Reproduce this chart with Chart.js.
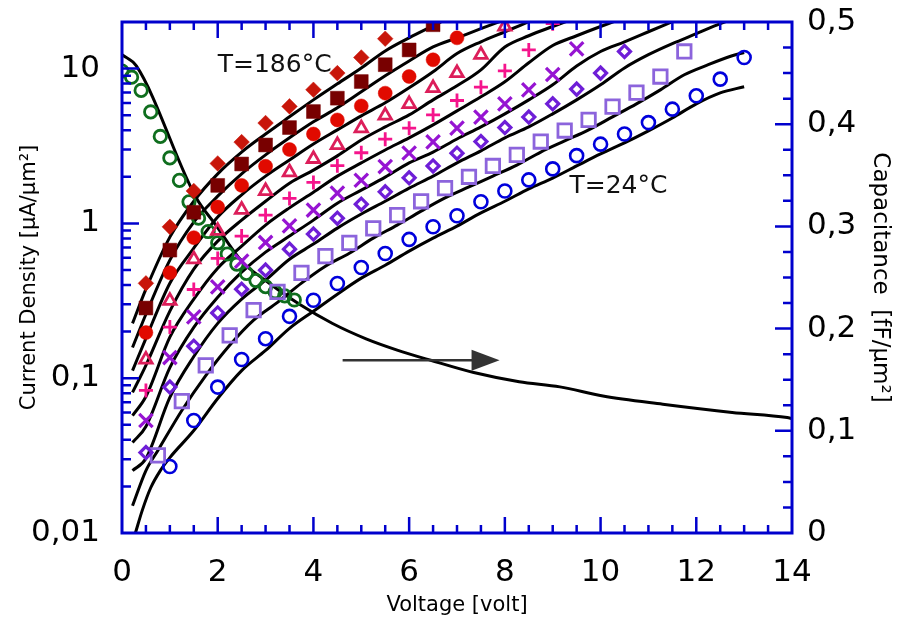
<!DOCTYPE html>
<html>
<head>
<meta charset="utf-8">
<script src="https://cdn.jsdelivr.net/npm/chart.js@4.4.1/dist/chart.umd.min.js"></script>
<style>
  html, body { margin: 0; padding: 0; background: #ffffff; }
  #wrap { width: 899px; height: 626px; }
</style>
</head>
<body>
<div id="wrap"><canvas id="c" width="899" height="626"></canvas></div>
<script>
// ---- Current density data, T = 186 °C (top series) down to T = 24 °C (bottom series)
const vSeries1 = [0.5, 1, 1.5, 2, 2.5, 3, 3.5, 4, 4.5, 5, 5.5];
const jSeries1 = [0.41, 0.95, 1.62, 2.44, 3.35, 4.45, 5.7, 7.3, 9.35, 11.8, 15.6];

const vSeries2 = [0.5, 1, 1.5, 2, 2.5, 3, 3.5, 4, 4.5, 5, 5.5, 6, 6.5];
const jSeries2 = [0.284, 0.672, 1.18, 1.76, 2.42, 3.21, 4.16, 5.28, 6.44, 8.25, 10.6, 13.2, 19.2];

const vSeries3 = [0.5, 1, 1.5, 2, 2.5, 3, 3.5, 4, 4.5, 5, 5.5, 6, 6.5, 7];
const jSeries3 = [0.197, 0.48, 0.809, 1.275, 1.76, 2.34, 3.0, 3.78, 4.66, 5.74, 6.94, 8.89, 11.4, 15.8];

const vSeries4 = [0.5, 1, 1.5, 2, 2.5, 3, 3.5, 4, 4.5, 5, 5.5, 6, 6.5, 7, 7.5, 8];
const jSeries4 = [0.132, 0.316, 0.587, 0.896, 1.225, 1.62, 2.14, 2.61, 3.21, 4.12, 4.97, 5.9, 7.48, 9.35, 12.3, 18.7];

const vSeries5 = [0.5, 1, 1.5, 2, 2.5, 3, 3.5, 4, 4.5, 5, 5.5, 6, 6.5, 7, 7.5, 8, 8.5, 9];
const jSeries5 = [0.0834, 0.214, 0.374, 0.594, 0.828, 1.13, 1.45, 1.84, 2.36, 2.86, 3.5, 4.12, 5.02, 6.22, 7.59, 9.68, 13.2, 19.5];

const vSeries6 = [0.5, 1, 1.5, 2, 2.5, 3, 3.5, 4, 4.5, 5, 5.5, 6, 6.5, 7, 7.5, 8, 8.5, 9, 9.5];
const jSeries6 = [0.0533, 0.136, 0.249, 0.389, 0.57, 0.753, 0.965, 1.22, 1.57, 1.9, 2.33, 2.85, 3.36, 4.13, 4.86, 5.92, 7.29, 9.16, 13.4];

const vSeries7 = [0.5, 1, 1.5, 2, 2.5, 3, 3.5, 4, 4.5, 5, 5.5, 6, 6.5, 7, 7.5, 8, 8.5, 9, 9.5, 10, 10.5];
const jSeries7 = [0.0331, 0.0876, 0.161, 0.264, 0.376, 0.499, 0.682, 0.853, 1.08, 1.33, 1.6, 1.97, 2.35, 2.84, 3.38, 4.16, 4.86, 5.92, 7.37, 9.35, 12.9];

const vSeries8 = [0.75, 1.25, 1.75, 2.25, 2.75, 3.25, 3.75, 4.25, 4.75, 5.25, 5.75, 6.25, 6.75, 7.25, 7.75, 8.25, 8.75, 9.25, 9.75, 10.25, 10.75, 11.25, 11.75];
const jSeries8 = [0.0317, 0.0711, 0.121, 0.189, 0.275, 0.361, 0.479, 0.614, 0.749, 0.928, 1.13, 1.39, 1.69, 2.0, 2.35, 2.77, 3.38, 3.98, 4.66, 5.68, 7.0, 8.89, 12.9];

const vSeries9 = [1, 1.5, 2, 2.5, 3, 3.5, 4, 4.5, 5, 5.5, 6, 6.5, 7, 7.5, 8, 8.5, 9, 9.5, 10, 10.5, 11, 11.5, 12, 12.5, 13];
const jSeries9 = [0.0269, 0.0533, 0.0876, 0.132, 0.18, 0.251, 0.319, 0.409, 0.519, 0.639, 0.788, 0.951, 1.12, 1.38, 1.62, 1.91, 2.25, 2.74, 3.25, 3.78, 4.48, 5.47, 6.67, 8.55, 11.8];

// ---- Model curves (solid black), one per temperature
const vFit1 = [0.22, 0.5, 1, 1.5, 2, 2.5, 3, 3.5, 4, 4.5, 5, 5.5, 6, 6.5, 7];
const jFit1 = [0.226, 0.376, 0.815, 1.39, 2.09, 2.89, 3.78, 4.88, 6.28, 7.97, 10.1, 13.0, 15.8, 18.9, 22.6];

const vFit2 = [0.22, 0.5, 1, 1.5, 2, 2.5, 3, 3.5, 4, 4.5, 5, 5.5, 6, 6.5, 7, 7.5, 8];
const jFit2 = [0.158, 0.259, 0.579, 1.02, 1.5, 2.09, 2.77, 3.57, 4.53, 5.58, 7.08, 8.98, 11.2, 13.8, 15.8, 18.1, 20.7];

const vFit3 = [0.22, 0.5, 1, 1.5, 2, 2.5, 3, 3.5, 4, 4.5, 5, 5.5, 6, 6.5, 7, 7.5, 8, 8.5];
const jFit3 = [0.112, 0.181, 0.411, 0.692, 1.1, 1.53, 2.02, 2.57, 3.26, 4.02, 4.95, 6.01, 7.51, 9.54, 12.5, 14.9, 17.3, 20.1];

const vFit4 = [0.22, 0.5, 1, 1.5, 2, 2.5, 3, 3.5, 4, 4.5, 5, 5.5, 6, 6.5, 7, 7.5, 8, 8.5, 9, 9.5];
const jFit4 = [0.0809, 0.121, 0.271, 0.506, 0.768, 1.05, 1.39, 1.82, 2.21, 2.73, 3.46, 4.2, 5.02, 6.28, 7.74, 9.82, 13.8, 16.3, 18.7, 21.3];

const vFit5 = [0.22, 0.5, 1, 1.5, 2, 2.5, 3, 3.5, 4, 4.5, 5, 5.5, 6, 6.5, 7, 7.5, 8, 8.5, 9, 9.5, 10, 10.5];
const jFit5 = [0.0574, 0.0762, 0.184, 0.324, 0.514, 0.713, 0.975, 1.26, 1.59, 2.02, 2.46, 2.98, 3.57, 4.33, 5.33, 6.57, 8.22, 10.9, 14.1, 16.3, 18.7, 21.3];

const vFit6 = [0.22, 0.5, 1, 1.5, 2, 2.5, 3, 3.5, 4, 4.5, 5, 5.5, 6, 6.5, 7, 7.5, 8, 8.5, 9, 9.5, 10, 10.5, 11, 11.5];
const jFit6 = [0.0384, 0.0488, 0.117, 0.213, 0.333, 0.484, 0.652, 0.828, 1.05, 1.35, 1.64, 1.99, 2.46, 2.89, 3.51, 4.2, 5.1, 6.28, 7.86, 10.4, 12.9, 14.9, 17.3, 20.1];

const vFit7 = [0.22, 0.5, 1, 1.5, 2, 2.5, 3, 3.5, 4, 4.5, 5, 5.5, 6, 6.5, 7, 7.5, 8, 8.5, 9, 9.5, 10, 10.5, 11, 11.5, 12, 12.5, 13];
const jFit7 = [0.0253, 0.0303, 0.0751, 0.138, 0.226, 0.324, 0.43, 0.587, 0.735, 0.932, 1.15, 1.39, 1.69, 2.02, 2.46, 2.94, 3.57, 4.2, 5.1, 6.28, 7.86, 10.1, 12.3, 14.5, 16.8, 19.5, 22.3];

const vFit8 = [0.22, 0.5, 0.75, 1.25, 1.75, 2.25, 2.75, 3.25, 3.75, 4.25, 4.75, 5.25, 5.75, 6.25, 6.75, 7.25, 7.75, 8.25, 8.75, 9.25, 9.75, 10.25, 10.75, 11.25, 11.75, 12.25, 12.75, 13];
const jFit8 = [0.015, 0.0253, 0.0341, 0.0619, 0.104, 0.163, 0.237, 0.309, 0.411, 0.529, 0.642, 0.803, 0.975, 1.2, 1.46, 1.72, 2.02, 2.38, 2.89, 3.41, 4.02, 4.88, 5.92, 7.29, 9.12, 10.6, 12.1, 12.7];

const vFit9 = [0.28, 0.42, 0.6, 0.8, 1, 1.5, 2, 2.5, 3, 3.5, 4, 4.5, 5, 5.5, 6, 6.5, 7, 7.5, 8, 8.5, 9, 9.5, 10, 10.5, 11, 11.5, 12, 12.5, 13];
const jFit9 = [0.01, 0.0139, 0.0196, 0.0253, 0.0307, 0.0459, 0.074, 0.112, 0.151, 0.21, 0.271, 0.349, 0.443, 0.537, 0.662, 0.803, 0.961, 1.17, 1.39, 1.67, 1.96, 2.35, 2.81, 3.31, 3.96, 4.8, 5.92, 6.97, 7.63];

// ---- Capacitance (right axis): measured points and model curve
const vCap = [0, 0.2, 0.4, 0.6, 0.8, 1.0, 1.2, 1.4, 1.6, 1.8, 2.0, 2.2, 2.4, 2.6, 2.8, 3.0, 3.2, 3.4, 3.6];
const cCap = [0.452, 0.446, 0.433, 0.412, 0.388, 0.367, 0.345, 0.324, 0.308, 0.295, 0.284, 0.273, 0.263, 0.254, 0.247, 0.241, 0.236, 0.232, 0.228];

const vCapFit = [0, 0.3, 1.55, 1.95, 2.5, 3.0, 3.7, 4.4, 5.1, 5.75, 6.45, 7.35, 8.3, 9.15, 10.05, 11.3, 12.75, 13.9, 14];
const cCapFit = [0.468, 0.457, 0.328, 0.302, 0.266, 0.247, 0.224, 0.205, 0.190, 0.179, 0.169, 0.157, 0.148, 0.143, 0.134, 0.126, 0.118, 0.113, 0.112];

// ---- Axis ticks and labels
const voltageTickValues = [0, 2, 4, 6, 8, 10, 12, 14];
const voltageTickLabels = ['0', '2', '4', '6', '8', '10', '12', '14'];
const currentTickValues = [0.01, 0.1, 1, 10];
const currentTickLabels = ['0,01', '0,1', '1', '10'];
const capTickValues = [0, 0.1, 0.2, 0.3, 0.4, 0.5];
const capTickLabels = ['0', '0,1', '0,2', '0,3', '0,4', '0,5'];

// ---- Annotations (data coordinates)
const label186 = { text: 'T=186°C', v: 2.0, j: 9.5 };
const label24 = { text: 'T=24°C', v: 9.35, j: 1.57 };
const arrowCap = { v0: 4.61, v1: 7.89, c: 0.169 };

const AXIS_BLUE = '#0000CD';
const FONT = '"DejaVu Sans", "Liberation Sans", sans-serif';

const pts = (vs, ys) => vs.map((v, i) => ({ x: v, y: ys[i] }));

function markerSet(vs, js, style, color, radius, filled, width) {
  return {
    type: 'scatter',
    data: pts(vs, js),
    yAxisID: 'y',
    pointStyle: style,
    pointRadius: radius,
    pointBorderColor: color,
    pointBackgroundColor: filled ? color : 'rgba(0,0,0,0)',
    pointBorderWidth: filled ? 0.5 : width,
    showLine: false,
    order: 0
  };
}

function fitSet(vs, js) {
  return {
    type: 'line',
    data: pts(vs, js),
    yAxisID: 'y',
    borderColor: '#000000',
    borderWidth: 3,
    pointRadius: 0,
    fill: false,
    cubicInterpolationMode: 'monotone',
    order: 1
  };
}

const datasets = [
  markerSet(vSeries1, jSeries1, 'rectRot', '#C8160A', 7.8, true),
  markerSet(vSeries2, jSeries2, 'rect', '#780000', 9.8, true),
  markerSet(vSeries3, jSeries3, 'circle', '#E10A00', 7, true),
  markerSet(vSeries4, jSeries4, 'triangle', '#DC1E5A', 7.2, false, 2.8),
  markerSet(vSeries5, jSeries5, 'cross', '#F5148C', 7, false, 2.8),
  markerSet(vSeries6, jSeries6, 'crossRot', '#9614D2', 9.5, false, 3.2),
  markerSet(vSeries7, jSeries7, 'rectRot', '#6E1ED7', 6, false, 3.2),
  markerSet(vSeries8, jSeries8, 'rect', '#8C64DC', 9.5, false, 2.8),
  markerSet(vSeries9, jSeries9, 'circle', '#0000DC', 6.5, false, 2.6),
  {
    type: 'scatter',
    data: pts(vCap, cCap),
    yAxisID: 'yC',
    pointStyle: 'circle',
    pointRadius: 6.2,
    pointBorderColor: '#0F6E1E',
    pointBackgroundColor: 'rgba(0,0,0,0)',
    pointBorderWidth: 2.8,
    showLine: false,
    order: 0
  },
  fitSet(vFit1, jFit1), fitSet(vFit2, jFit2), fitSet(vFit3, jFit3),
  fitSet(vFit4, jFit4), fitSet(vFit5, jFit5), fitSet(vFit6, jFit6),
  fitSet(vFit7, jFit7), fitSet(vFit8, jFit8), fitSet(vFit9, jFit9),
  {
    type: 'line',
    data: pts(vCapFit, cCapFit),
    yAxisID: 'yC',
    borderColor: '#000000',
    borderWidth: 3,
    pointRadius: 0,
    fill: false,
    cubicInterpolationMode: 'monotone',
    order: 1
  }
];

// Frame, inward tick marks, arrow and temperature labels
const framePlugin = {
  id: 'framePlugin',
  afterDatasetsDraw(chart) {
    const { ctx, chartArea: a, scales } = chart;
    const sx = scales.x, sy = scales.y, sc = scales.yC;
    ctx.save();

    // tick marks
    ctx.strokeStyle = AXIS_BLUE;
    ctx.lineWidth = 2.5;
    ctx.beginPath();
    for (let k = 1; k < 28; k++) {
      const px = sx.getPixelForValue(k * 0.5);
      const len = (k % 4 === 0) ? 16 : 8;
      ctx.moveTo(px, a.bottom); ctx.lineTo(px, a.bottom - len);
      ctx.moveTo(px, a.top); ctx.lineTo(px, a.top + len);
    }
    for (let e = -2; e <= 1; e++) {
      for (let m = 1; m <= 9; m++) {
        const v = m * Math.pow(10, e);
        if (v <= 0.0101 || v >= 20) continue;
        const py = sy.getPixelForValue(v);
        const len = (m === 1) ? 17 : 9;
        ctx.moveTo(a.left, py); ctx.lineTo(a.left + len, py);
      }
    }
    for (let k = 1; k < 20; k++) {
      const py = sc.getPixelForValue(k * 0.025);
      const len = (k % 4 === 0) ? 17 : 9;
      ctx.moveTo(a.right, py); ctx.lineTo(a.right - len, py);
    }
    ctx.stroke();

    // frame
    ctx.lineWidth = 3;
    ctx.strokeRect(a.left, a.top, a.right - a.left, a.bottom - a.top);

    // arrow pointing to the capacitance axis
    const ax0 = sx.getPixelForValue(arrowCap.v0);
    const ax1 = sx.getPixelForValue(arrowCap.v1);
    const ay = sc.getPixelForValue(arrowCap.c);
    const head = 28;
    ctx.strokeStyle = '#333333';
    ctx.fillStyle = '#333333';
    ctx.lineWidth = 2.5;
    ctx.beginPath();
    ctx.moveTo(ax0, ay);
    ctx.lineTo(ax1 - head + 2, ay);
    ctx.stroke();
    ctx.beginPath();
    ctx.moveTo(ax1, ay);
    ctx.lineTo(ax1 - head, ay - 10.5);
    ctx.lineTo(ax1 - head, ay + 10.5);
    ctx.closePath();
    ctx.fill();

    // temperature labels
    ctx.fillStyle = '#111111';
    ctx.font = '25px ' + FONT;
    ctx.textAlign = 'left';
    ctx.textBaseline = 'alphabetic';
    [label186, label24].forEach(l => {
      ctx.fillText(l.text, sx.getPixelForValue(l.v), sy.getPixelForValue(l.j));
    });

    ctx.restore();
  }
};

const tickFont = { family: FONT, size: 31 };
const titleFont = { family: FONT, size: 21 };
const capTitleFont = { family: FONT, size: 23 };

new Chart(document.getElementById('c'), {
  data: { datasets },
  options: {
    responsive: false,
    animation: false,
    layout: { padding: { top: 22, left: 0, right: 0, bottom: 0 } },
    plugins: { legend: { display: false }, tooltip: { enabled: false } },
    scales: {
      x: {
        type: 'linear',
        position: 'bottom',
        min: 0, max: 14,
        grid: { display: false, drawTicks: false },
        border: { display: false },
        afterBuildTicks: s => { s.ticks = voltageTickValues.map(v => ({ value: v })); },
        afterFit: s => { s.height = 93; s.paddingLeft = 0; s.paddingRight = 0; },
        ticks: {
          font: tickFont, color: '#000', padding: 21, maxRotation: 0, autoSkip: false,
          callback: (v, i) => voltageTickLabels[i]
        },
        title: { display: true, text: 'Voltage [volt]', font: titleFont, color: '#000', padding: { top: 0, bottom: 8 } }
      },
      y: {
        type: 'logarithmic',
        position: 'left',
        min: 0.01, max: 20,
        grid: { display: false, drawTicks: false },
        border: { display: false },
        afterBuildTicks: s => { s.ticks = currentTickValues.map(v => ({ value: v })); },
        afterFit: s => { s.width = 122; s.paddingTop = 0; s.paddingBottom = 0; },
        ticks: {
          font: tickFont, color: '#000', padding: 22, autoSkip: false,
          callback: (v, i) => currentTickLabels[i]
        },
        title: { display: true, text: 'Current Density [μA/μm²]', font: titleFont, color: '#000', padding: { top: 17, bottom: 0 } }
      },
      yC: {
        type: 'linear',
        position: 'right',
        min: 0, max: 0.5,
        grid: { display: false, drawTicks: false },
        border: { display: false },
        afterBuildTicks: s => { s.ticks = capTickValues.map(v => ({ value: v })); },
        afterFit: s => { s.width = 107; s.paddingTop = 0; s.paddingBottom = 0; },
        ticks: {
          font: tickFont, color: '#000', padding: 15, autoSkip: false,
          callback: (v, i) => capTickLabels[i]
        },
        title: { display: true, text: 'Capacitance  [fF/μm²]', font: capTitleFont, color: '#000', padding: { top: 5, bottom: 0 } }
      }
    }
  },
  plugins: [framePlugin]
});
</script>
</body>
</html>
